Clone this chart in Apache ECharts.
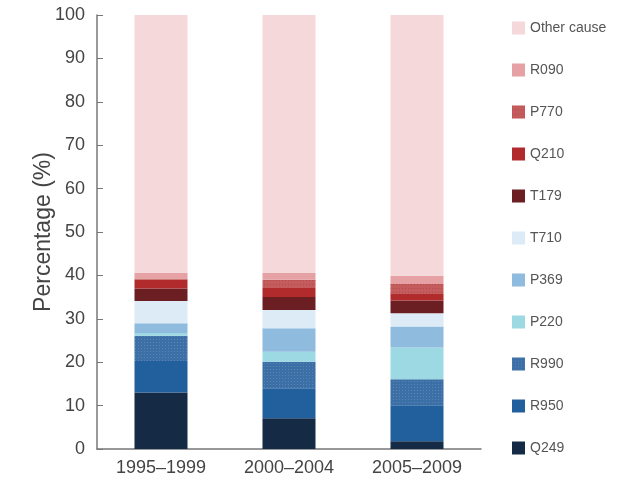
<!DOCTYPE html>
<html><head><meta charset="utf-8">
<script src="https://cdn.jsdelivr.net/npm/echarts@6/dist/echarts.min.js"></script>
<style>html,body{margin:0;padding:0;background:#fff}#c{width:623px;height:483px}</style>
</head><body><div id="c"></div>
<script>
const categories = ['1995–1999', '2000–2004', '2005–2009'];
const Q249 = [13.0, 7.1, 1.8];
const R950 = [7.3, 6.9, 8.3];
const R990 = [5.8, 6.1, 6.0];
const P220 = [0.6, 2.3, 7.3];
const P369 = [2.3, 5.4, 4.8];
const T710 = [5.1, 4.2, 3.1];
const T179 = [2.9, 3.0, 2.9];
const Q210 = [2.0, 2.1, 1.7];
const P770 = [0.3, 1.9, 2.1];
const R090 = [1.3, 1.6, 1.9];
const Other = [59.5, 59.4, 60.1];
const yTicks = [0, 10, 20, 30, 40, 50, 60, 70, 80, 90, 100];

const seriesDefs = [
  ['Q249', Q249, '#152a45'],
  ['R950', R950, '#22609d'],
  ['R990', R990, '#3c6fa6', {symbol: 'rect', symbolSize: 1, color: 'rgba(120,160,205,0.45)', dashArrayX: [1, 2], dashArrayY: [1, 2]}],
  ['P220', P220, '#9cd9e3'],
  ['P369', P369, '#8fbbdf'],
  ['T710', T710, '#dcebf6'],
  ['T179', T179, '#6c1f23'],
  ['Q210', Q210, '#b22b2c'],
  ['P770', P770, '#c45c5d', {symbol: 'rect', symbolSize: 1, color: 'rgba(160,50,50,0.45)', dashArrayX: [1, 2], dashArrayY: [1, 3]}],
  ['R090', R090, '#e5a1a3'],
  ['Other cause', Other, '#f5d8d9']
];
const FONT = '"Liberation Sans", Arial, sans-serif';
const chart = echarts.init(document.getElementById('c'), null, {renderer: 'canvas'});
chart.setOption({
  animation: false,
  grid: {left: 97, right: 142, top: 15, bottom: 34, containLabel: false},
  legend: {
    orient: 'vertical', left: 507, top: 16, height: 465,
    itemWidth: 13, itemHeight: 13, itemGap: 28,
    icon: 'rect',
    textStyle: {fontFamily: FONT, fontSize: 14, color: '#555'},
    data: seriesDefs.map(s => s[0]).reverse()
  },
  xAxis: {
    type: 'category', data: categories,
    axisLine: {lineStyle: {color: '#777', width: 1.5}},
    axisTick: {inside: true, length: 8, lineStyle: {color: '#777'}},
    axisLabel: {fontFamily: FONT, fontSize: 18, color: '#444', margin: 10}
  },
  yAxis: {
    type: 'value', min: 0, max: 100, interval: 10,
    name: 'Percentage (%)', nameLocation: 'middle', nameGap: 42, nameMoveOverlap: false,
    nameTextStyle: {fontFamily: FONT, fontSize: 23, color: '#444'},
    axisLine: {show: true, lineStyle: {color: '#777', width: 1.5}},
    axisTick: {show: true, inside: true, length: 6, lineStyle: {color: '#777'}},
    splitLine: {show: false},
    axisLabel: {fontFamily: FONT, fontSize: 18, color: '#444', margin: 12,
      formatter: v => yTicks.includes(v) ? String(v) : ''}
  },
  series: seriesDefs.map(([name, data, color, decal]) => ({
    name, type: 'bar', stack: 'all', data, barWidth: 53,
    itemStyle: decal ? {color, decal} : {color}
  }))
});
</script></body></html>
